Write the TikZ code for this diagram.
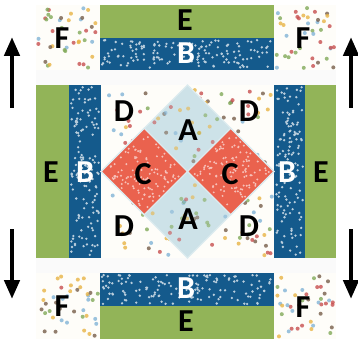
\documentclass[tikz,border=0pt]{standalone}
\usepackage{fontspec}
\setmainfont{Carlito}
\usetikzlibrary{arrows.meta}
\definecolor{greenE}{RGB}{146,180,88}
\definecolor{blueB}{RGB}{20,90,140}
\definecolor{redC}{RGB}{234,98,78}
\definecolor{lightA}{RGB}{205,226,232}
\definecolor{creamD}{RGB}{254,253,249}
\definecolor{gapW}{RGB}{250,250,250}
\definecolor{dotR}{RGB}{200,80,80}
\definecolor{dotO}{RGB}{232,180,70}
\definecolor{dotG}{RGB}{130,170,90}
\definecolor{dotB}{RGB}{130,180,215}
\definecolor{dotK}{RGB}{120,95,75}
\pgfmathdeclarerandomlist{dotcols}{{dotR}{dotO}{dotG}{dotB}{dotK}}
% rectangular sprinkles
\newcommand\qdots[6]{%
  \foreach \qi in {1,...,#5}{%
    \pgfmathsetmacro\qx{#1+rnd*(#3-#1)}%
    \pgfmathsetmacro\qy{#2+rnd*(#4-#2)}%
    \fill[#6] (\qx,\qy) circle (1.3pt);}}
\newcommand\qmdots[5]{%
  \foreach \qi in {1,...,#5}{%
    \pgfmathsetmacro\qx{#1+rnd*(#3-#1)}%
    \pgfmathsetmacro\qy{#2+rnd*(#4-#2)}%
    \pgfmathrandomitem{\qc}{dotcols}%
    \fill[\qc, opacity=0.8] (\qx,\qy) circle (2pt);}}
% sprinkles inside a diamond: centre, half diagonal, count, style
\newcommand\qddots[6]{%
  \foreach \qi in {1,...,#4}{%
    \pgfmathsetmacro\qu{rand}%
    \pgfmathsetmacro\qv{rand}%
    \pgfmathsetmacro\qx{#1+(\qu-\qv)*#3*0.46}%
    \pgfmathsetmacro\qy{#2+(\qu+\qv)*#3*0.46}%
    \fill[#5] (\qx,\qy) circle (#6);}}
\newcommand\qdmdots[4]{%
  \foreach \qi in {1,...,#4}{%
    \pgfmathsetmacro\qu{rand}%
    \pgfmathsetmacro\qv{rand}%
    \pgfmathsetmacro\qx{#1+(\qu-\qv)*#3*0.46}%
    \pgfmathsetmacro\qy{#2+(\qu+\qv)*#3*0.46}%
    \pgfmathrandomitem{\qc}{dotcols}%
    \fill[\qc, opacity=0.6] (\qx,\qy) circle (2pt);}}
\tikzset{
  lbl/.style={font=\fontsize{32}{32}\selectfont\bfseries, text=black, inner sep=0pt},
  wlbl/.style={lbl, text=white},
  bigarrow/.style={line width=4.5pt, -{Triangle[width=15pt,length=19pt]}},
  seam/.style={draw=lightA!70!white, line width=1.2pt}
}
\begin{document}
\begin{tikzpicture}[x=1pt,y=-1pt]
\pgfmathsetseed{11}
\useasboundingbox (0,0) rectangle (358,339);
\fill[white] (0,0) rectangle (358,339);
% gaps
\fill[gapW] (36,70) rectangle (336,85);
\fill[gapW] (36,258) rectangle (336,273);
% top strip
\fill[creamD] (36,5) rectangle (100,70);
\fill[creamD] (274,5) rectangle (336,70);
\fill[greenE] (100,5) rectangle (274,38);
\fill[blueB] (100,38) rectangle (274,70);
% bottom strip
\fill[creamD] (36,273) rectangle (100,339);
\fill[creamD] (274,273) rectangle (336,339);
\fill[blueB] (100,273) rectangle (274,306);
\fill[greenE] (100,306) rectangle (274,339);
% middle sides
\fill[greenE] (36,85) rectangle (69,258);
\fill[blueB] (69,85) rectangle (101,258);
\fill[blueB] (274,85) rectangle (305,258);
\fill[greenE] (305,85) rectangle (336,258);
% center block
\fill[creamD] (101,85) rectangle (274,258);
% textures
\qdots{102}{40}{272}{68}{140}{white!70!blueB}
\qdots{102}{275}{272}{304}{140}{white!70!blueB}
\qdots{71}{87}{99}{256}{130}{white!70!blueB}
\qdots{276}{87}{303}{256}{130}{white!70!blueB}
\qmdots{38}{7}{98}{68}{40}
\qmdots{276}{7}{334}{68}{40}
\qmdots{38}{275}{98}{337}{40}
\qmdots{276}{275}{334}{337}{40}
\qmdots{103}{87}{272}{256}{160}
% diamond
\coordinate (T) at (187.5,85);
\coordinate (R) at (274,171.5);
\coordinate (Bv) at (187.5,258);
\coordinate (L) at (101,171.5);
\coordinate (O) at (187.5,171.5);
\coordinate (TL) at (144.25,128.25);
\coordinate (TR) at (230.75,128.25);
\coordinate (BL) at (144.25,214.75);
\coordinate (BR) at (230.75,214.75);
\fill[lightA] (T) -- (R) -- (Bv) -- (L) -- cycle;
\qdmdots{187.5}{128.25}{43.25}{22}
\qdmdots{187.5}{214.75}{43.25}{22}
\fill[redC, seam] (TL) -- (O) -- (BL) -- (L) -- cycle;
\fill[redC, seam] (TR) -- (R) -- (BR) -- (O) -- cycle;
\qddots{144.25}{171.5}{43.25}{110}{white!60!redC}{1.1pt}
\qddots{230.75}{171.5}{43.25}{110}{white!60!redC}{1.1pt}
\draw[seam] (T) -- (R) -- (Bv) -- (L) -- cycle;
% labels
\node[lbl] (eT) at (185,20) {E};
\node[wlbl] (bT) at (186,53) {B};
\node[lbl] (fTL) at (62,38) {F};
\node[lbl] (fTR) at (303,38) {F};
\node[lbl] (dTL) at (124,111) {D};
\node[lbl] (dTR) at (249,111) {D};
\node[lbl] (dBL) at (124,226) {D};
\node[lbl] (dBR) at (249,226) {D};
\node[lbl] (aT) at (188,130) {A};
\node[lbl] (aB) at (188,219) {A};
\node[lbl] (cL) at (143,174) {C};
\node[lbl] (cR) at (230,174) {C};
\node[lbl] (eL) at (51,172) {E};
\node[wlbl] (bL) at (85,172) {B};
\node[wlbl] (bR) at (287,172) {B};
\node[lbl] (eR) at (321,172) {E};
\node[wlbl] (bB) at (186,288) {B};
\node[lbl] (eB) at (186,321) {E};
\node[lbl] (fBL) at (62,306) {F};
\node[lbl] (fBR) at (303,307) {F};
% arrows
\coordinate (lu1) at (12,108); \coordinate (lu2) at (12,37);
\coordinate (ru1) at (351,108); \coordinate (ru2) at (351,37);
\coordinate (ld1) at (12,229); \coordinate (ld2) at (12,299);
\coordinate (rd1) at (351,229); \coordinate (rd2) at (351,299);
\draw[bigarrow] (lu1) -- (lu2);
\draw[bigarrow] (ru1) -- (ru2);
\draw[bigarrow] (ld1) -- (ld2);
\draw[bigarrow] (rd1) -- (rd2);
\end{tikzpicture}
\end{document}
